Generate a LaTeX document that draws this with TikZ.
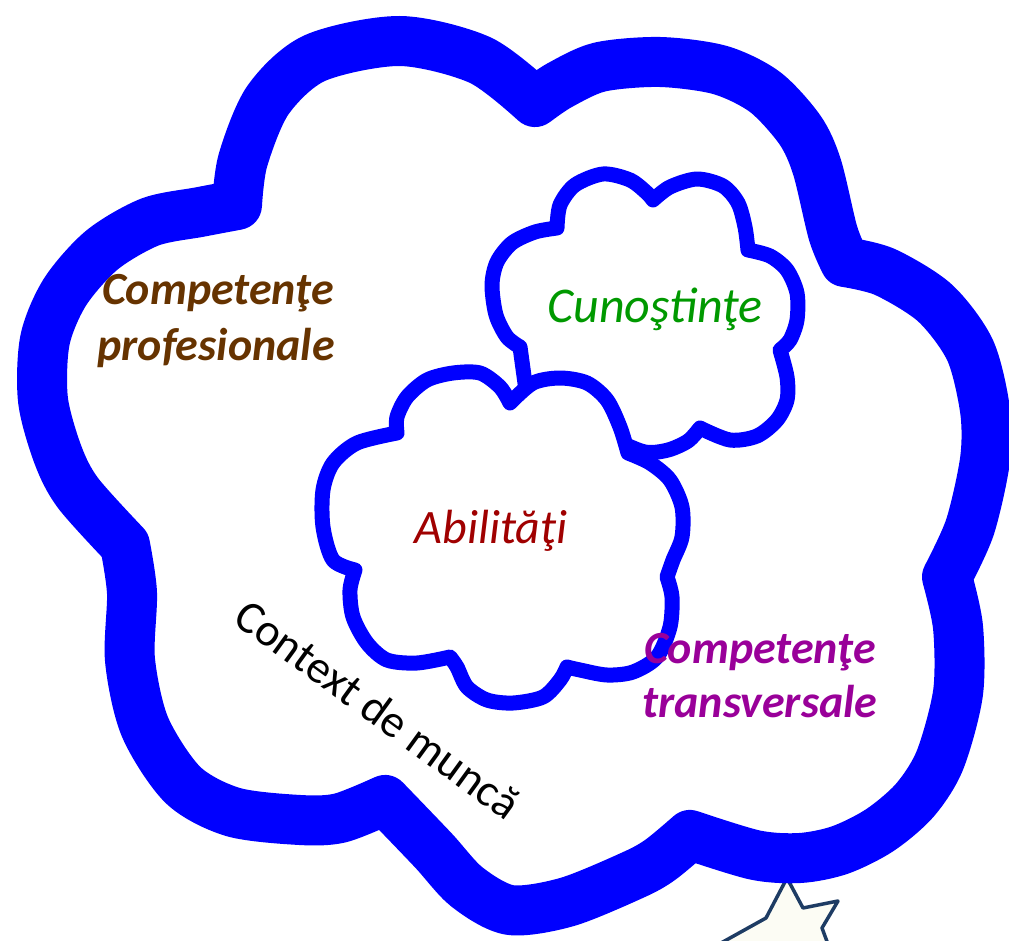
\documentclass[tikz,border=0pt]{standalone}
\usepackage{fontspec}
\setmainfont{Carlito}
\usepackage{tikz}

\definecolor{cloudblue}{RGB}{0,0,255}
\definecolor{profbrown}{RGB}{102,51,0}
\definecolor{cunogreen}{RGB}{0,153,0}
\definecolor{abilred}{RGB}{160,0,0}
\definecolor{transpurple}{RGB}{153,0,153}
\definecolor{stardark}{RGB}{30,60,100}
\definecolor{starfill}{RGB}{252,252,244}

\begin{document}
\begin{tikzpicture}[x=1pt, y=-1pt,
	bigcloud/.style={draw=cloudblue, line width=50pt, line join=round},
	smallcloud/.style={draw=cloudblue, fill=white, line width=15pt, line join=round},
	lbl/.style={anchor=base, inner sep=0pt},
	lblbold/.style={lbl, font=\fontsize{46}{55}\selectfont\bfseries\itshape},
	lblit/.style={lbl, font=\fontsize{48}{55}\selectfont\itshape}]

	\useasboundingbox (0,0) rectangle (1009,941);
	\clip (0,0) rectangle (1009,941);

	% star behind the big cloud
	\filldraw[draw=stardark, fill=starfill, line width=3.5pt, line join=round] (787,878) -- (803,908) -- (838,901) -- (822,928) -- (845,990) -- (790,965) -- (740,1000) -- (755,960) -- (712,948) -- (766,918) -- cycle;

	% big cloud
	\draw[bigcloud] plot[smooth] coordinates {(125,545) (78,493) (58,455) (43,400) (45,340) (65,292) (102,250) (150,222) (200,212) (237,205)}
		-- plot[smooth] coordinates {(237,205) (243,160) (268,100) (315,58) (400,41) (480,60) (535,102)}
		-- plot[smooth] coordinates {(535,102) (560,85) (600,67) (660,62) (720,70) (765,92) (800,130) (817,167) (833,233) (845,262)}
		-- plot[smooth] coordinates {(845,262) (885,272) (935,303) (970,350) (985,410) (985,460) (970,527) (947,577)}
		-- plot[smooth] coordinates {(947,577) (958,627) (958,693) (940,760) (915,800) (880,830) (840,850) (800,858) (755,855) (690,835)}
		-- plot[smooth] coordinates {(690,835) (660,860) (633,875) (567,902) (510,910) (467,887) (433,850) (385,800)}
		-- plot[smooth] coordinates {(385,800) (340,818) (300,820) (233,812) (183,785) (145,727) (130,660) (132,593) (125,545)}
		-- cycle;

	% knowledge cloud
	\filldraw[smallcloud] plot[smooth] coordinates {(520,347) (507,337) (496,315) (492,285) (497,262) (512,243) (535,232) (557,228)}
		-- plot[smooth] coordinates {(557,228) (560,205) (575,185) (603,174) (630,180) (647,193) (653,200)}
		-- plot[smooth] coordinates {(653,200) (670,187) (697,179) (723,186) (738,203) (745,227) (748,250)}
		-- plot[smooth] coordinates {(748,250) (770,256) (787,270) (797,293) (797,320) (790,340) (780,350)}
		-- plot[smooth] coordinates {(780,350) (787,377) (787,400) (777,420) (757,436) (730,440) (700,428)}
		-- plot[smooth] coordinates {(700,428) (688,441) (668,450) (645,452) (615,440) (565,418) (528,405)}
		-- cycle;

	% skills cloud, on top
	\filldraw[smallcloud] plot[smooth] coordinates {(397,433) (397,417) (407,397) (427,380) (453,373) (480,373) (500,387) (510,403)}
		-- plot[smooth] coordinates {(510,403) (533,383) (560,378) (587,383) (607,400) (620,427) (628,453)}
		-- plot[smooth] coordinates {(628,453) (650,463) (670,480) (682,507) (682,537) (673,560) (667,577)}
		-- plot[smooth] coordinates {(667,577) (672,597) (670,627) (657,657) (633,672) (607,675) (580,670) (567,667)}
		-- plot[smooth] coordinates {(567,667) (560,680) (543,697) (513,703) (487,700) (467,687) (457,667) (450,657)}
		-- plot[smooth] coordinates {(450,657) (417,663) (387,660) (367,643) (353,617) (350,590) (355,570)}
		-- plot[smooth] coordinates {(355,570) (333,560) (323,527) (323,490) (333,463) (357,443) (397,433)}
		-- cycle;

	\node[lblbold, text=profbrown] (profA) at (218,305) {Competenţe};
	\node[lblbold, text=profbrown] (profB) at (216,360) {profesionale};
	\node[lblit, text=cunogreen, font=\fontsize{50}{55}\selectfont\itshape] (cunostinte) at (655,323) {Cunoştinţe};
	\node[lblit, text=abilred] (abilitati) at (491,543) {Abilităţi};
	\node[lblbold, text=transpurple] (transA) at (760,663) {Competenţe};
	\node[lblbold, text=transpurple] (transB) at (760,717) {transversale};
	\node[lbl, anchor=center, rotate=-36, font=\fontsize{46}{55}\selectfont] (context) at (378,709) {Context de muncă};

\end{tikzpicture}
\end{document}
